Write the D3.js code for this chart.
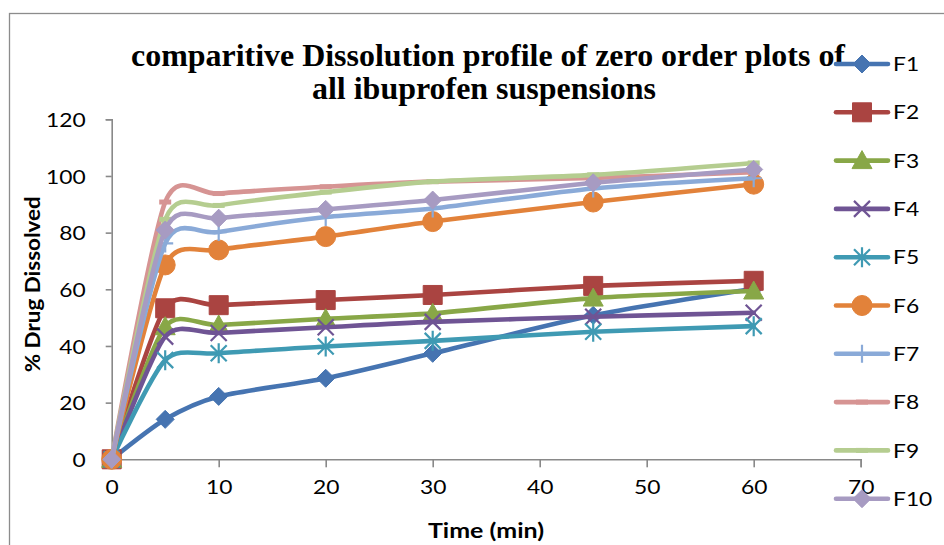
<!DOCTYPE html>
<html>
<head>
<meta charset="utf-8">
<script src="https://cdn.jsdelivr.net/npm/d3@7"></script>
<style>
  html, body { margin: 0; padding: 0; background: #fff; }
  svg { display: block; }
</style>
</head>
<body>
<svg id="chart" width="944" height="545"></svg>
<script>
// Sampling times (min)
const times = [0, 5, 10, 20, 30, 45, 60];

// % drug dissolved per formulation
const F1 = [0, 14.1, 22.2, 28.6, 37.4, 50.8, 60.2];
const F2 = [0, 53.3, 54.4, 56.2, 58.0, 61.2, 63.0];
const F3 = [0, 46.8, 47.4, 49.6, 51.5, 56.9, 59.4];
const F4 = [0, 43.3, 44.6, 46.6, 48.5, 50.3, 51.7];
const F5 = [0, 35.0, 37.4, 39.8, 41.8, 45.0, 47.0];
const F6 = [0, 68.6, 73.9, 78.6, 83.9, 90.8, 97.1];
const F7 = [0, 76.2, 80.2, 85.5, 88.5, 95.6, 99.2];
const F8 = [0, 90.8, 93.8, 96.2, 98.0, 99.3, 101.3];
const F9 = [0, 84.7, 89.6, 94.3, 98.0, 100.4, 104.6];
const F10 = [0, 80.9, 85.1, 88.2, 91.5, 97.6, 102.3];

const seriesNames = ["F1", "F2", "F3", "F4", "F5", "F6", "F7", "F8", "F9", "F10"];
const seriesValues = [F1, F2, F3, F4, F5, F6, F7, F8, F9, F10];

const xTicks = [0, 10, 20, 30, 40, 50, 60, 70];
const yTicks = [0, 20, 40, 60, 80, 100, 120];

const titleLines = ["comparitive Dissolution profile of zero order plots of", "all ibuprofen suspensions"];
const xTitle = "Time (min)";
const yTitle = "% Drug Dissolved";

// Styling per series: stroke colour and marker type
const colors = ["#4674b1", "#aa4441", "#88a747", "#6f5494", "#3f9ab3", "#e2823a", "#8aaad8", "#d69493", "#b5cd90", "#a79bc2"];
const markers = ["diamond", "square", "triangle", "x", "star", "circle", "plus", "dash", "dash", "diamond"];

const svg = d3.select("#chart");
const axisColor = "#898989";
const labelFont = "Lato, 'Open Sans', 'Liberation Sans', sans-serif";
const stretch = 1.14; // horizontal widening of label glyphs

// Outer chart frame
svg.append("rect")
  .attr("x", 9.5).attr("y", 13.5)
  .attr("width", 1000).attr("height", 600)
  .attr("fill", "none").attr("stroke", "#8c8c8c").attr("stroke-width", 1.3);

const x = d3.scaleLinear().domain([0, 70]).range([111.7, 860.7]);
const y = d3.scaleLinear().domain([0, 120]).range([459.3, 119.3]);

// Axes
const xAxis = svg.append("g")
  .attr("transform", `translate(0,${y(0)})`)
  .call(d3.axisBottom(x).tickValues(xTicks).tickSize(8).tickPadding(8).tickFormat(d3.format("d")));
const yAxis = svg.append("g")
  .attr("transform", `translate(${x(0)},0)`)
  .call(d3.axisLeft(y).tickValues(yTicks).tickSize(6).tickPadding(20).tickFormat(d3.format("d")));

[xAxis, yAxis].forEach(g => {
  g.select(".domain").attr("stroke", axisColor).attr("stroke-width", 1.6);
  g.selectAll(".tick line").attr("stroke", axisColor).attr("stroke-width", 1.6);
  g.selectAll(".tick text")
    .attr("fill", "#000")
    .style("font-family", labelFont)
    .style("font-size", "20px");
});
xAxis.selectAll(".tick text").attr("dy", "0.92em")
  .attr("transform", `scale(${stretch},1)`);
yAxis.selectAll(".tick text").attr("dy", "0.36em")
  .attr("x", -26 / stretch)
  .attr("transform", `scale(${stretch},1)`);

// Marker shapes
function markerPath(type) {
  switch (type) {
    case "diamond": return "M0,-9L9,0L0,9L-9,0Z";
    case "square": return "M-9.5,-9.5H9.5V9.5H-9.5Z";
    case "triangle": return "M0,-10L10,8L-10,8Z";
    case "circle": return d3.symbol(d3.symbolCircle, Math.PI * 10 * 10)();
    case "x": return "M-8,-8L8,8M-8,8L8,-8";
    case "star": return "M-8,-8L8,8M-8,8L8,-8M0,-10V10";
    case "plus": return "M0,-9V9M-8,0H8";
    case "dash": return "M-6,0H6";
  }
}
function drawMarker(g, type, color, cx, cy) {
  const p = g.append("path").attr("d", markerPath(type))
    .attr("transform", `translate(${cx},${cy})`);
  if (type === "x" || type === "star" || type === "plus") {
    p.attr("fill", "none").attr("stroke", color).attr("stroke-width", 2.2);
  } else if (type === "dash") {
    p.attr("fill", "none").attr("stroke", color).attr("stroke-width", 5);
  } else {
    p.attr("fill", color).attr("stroke", color).attr("stroke-width", 1);
  }
}

// Smoothed lines
const line = d3.line()
  .x((d, i) => x(times[i]))
  .y(d => y(d))
  .curve(d3.curveCardinal.tension(0.25));

const plot = svg.append("g");
seriesValues.forEach((vals, s) => {
  const g = plot.append("g");
  g.append("path")
    .datum(vals)
    .attr("d", line)
    .attr("fill", "none")
    .attr("stroke", colors[s])
    .attr("stroke-width", 4.6)
    .attr("stroke-linecap", "round")
    .attr("stroke-linejoin", "round");
  vals.forEach((v, i) => drawMarker(g, markers[s], colors[s], x(times[i]), y(v)));
});

// Title
const title = svg.append("g")
  .style("font-family", "'Liberation Serif', 'Times New Roman', serif")
  .style("font-weight", "bold")
  .style("font-size", "31px")
  .attr("fill", "#000");
title.append("text").attr("x", 488).attr("y", 66).attr("text-anchor", "middle")
  .attr("textLength", 714).attr("lengthAdjust", "spacingAndGlyphs").text(titleLines[0]);
title.append("text").attr("x", 484).attr("y", 99).attr("text-anchor", "middle")
  .attr("textLength", 344).attr("lengthAdjust", "spacingAndGlyphs").text(titleLines[1]);

// Axis titles
svg.append("text")
  .attr("x", 486).attr("y", 538).attr("text-anchor", "middle")
  .attr("textLength", 116).attr("lengthAdjust", "spacingAndGlyphs")
  .style("font-family", labelFont).style("font-weight", "bold").style("font-size", "21px")
  .text(xTitle);
svg.append("text")
  .attr("transform", `translate(40,${(y(0) + y(120)) / 2 - 5}) rotate(-90)`)
  .attr("text-anchor", "middle")
  .attr("textLength", 176).attr("lengthAdjust", "spacingAndGlyphs")
  .style("font-family", labelFont).style("font-weight", "bold").style("font-size", "21px")
  .text(yTitle);

// Legend
const legend = svg.append("g");
seriesNames.forEach((name, s) => {
  const ly = 64 + s * 48.3;
  const g = legend.append("g");
  g.append("line")
    .attr("x1", 836).attr("x2", 888).attr("y1", ly).attr("y2", ly)
    .attr("stroke", colors[s]).attr("stroke-width", 4.6).attr("stroke-linecap", "round");
  drawMarker(g, markers[s], colors[s], 862, ly);
  g.append("text")
    .attr("x", 893 / stretch).attr("y", ly).attr("dy", "0.36em")
    .attr("transform", `scale(${stretch},1)`)
    .style("font-family", labelFont).style("font-size", "20px")
    .attr("fill", "#000")
    .text(name);
});
</script>
</body>
</html>
